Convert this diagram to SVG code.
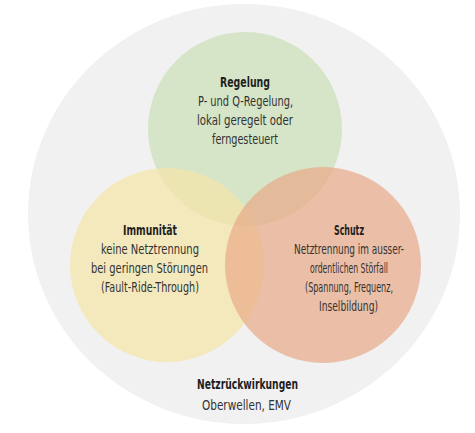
<svg xmlns="http://www.w3.org/2000/svg" width="475" height="433" viewBox="0 0 475 433">
<style>
.t{font-family:"DejaVu Sans Condensed","Liberation Sans",sans-serif;font-size:13.5px;fill:#333333;text-anchor:middle}
.b{font-weight:bold;fill:#1e1e1e}
.c{fill-opacity:0.7}
</style>
<rect width="475" height="433" fill="#ffffff"/>
<g id="netzrueckwirkungen">
<ellipse cx="244" cy="214" rx="216" ry="210" fill="#f1f1f2"/>
</g>
<g id="regelung-circle"><circle class="c" cx="245" cy="129" r="97" fill="#cae0b6"/></g>
<g id="immunitaet-circle"><circle class="c" cx="167" cy="265" r="97" fill="#f5e5a6"/></g>
<g id="schutz-circle"><circle class="c" cx="323" cy="265" r="98" fill="#e8aa88"/></g>
<g id="connectors"></g>
<g id="regelung">
<text class="t b" x="245" y="87" textLength="50" lengthAdjust="spacingAndGlyphs">Regelung</text>
<text class="t" x="245.5" y="106" textLength="95" lengthAdjust="spacingAndGlyphs">P- und Q-Regelung,</text>
<text class="t" x="245" y="125" textLength="96" lengthAdjust="spacingAndGlyphs">lokal geregelt oder</text>
<text class="t" x="245" y="144" textLength="66" lengthAdjust="spacingAndGlyphs">ferngesteuert</text>
</g>
<g id="immunitaet">
<text class="t b" x="150" y="235" textLength="54" lengthAdjust="spacingAndGlyphs">Immunität</text>
<text class="t" x="150" y="254" textLength="98" lengthAdjust="spacingAndGlyphs">keine Netztrennung</text>
<text class="t" x="149.5" y="273" textLength="117" lengthAdjust="spacingAndGlyphs">bei geringen Störungen</text>
<text class="t" x="150" y="292" textLength="98" lengthAdjust="spacingAndGlyphs">(Fault-Ride-Through)</text>
</g>
<g id="schutz">
<text class="t b" x="349" y="235" textLength="30" lengthAdjust="spacingAndGlyphs">Schutz</text>
<text class="t" x="349" y="254" textLength="110" lengthAdjust="spacingAndGlyphs">Netztrennung im ausser-</text>
<text class="t" x="349" y="273" textLength="78" lengthAdjust="spacingAndGlyphs">ordentlichen Störfall</text>
<text class="t" x="349" y="292" textLength="88" lengthAdjust="spacingAndGlyphs">(Spannung, Frequenz,</text>
<text class="t" x="348.5" y="311" textLength="59" lengthAdjust="spacingAndGlyphs">Inselbildung)</text>
</g>
<g id="netz-label">
<text class="t b" x="247.5" y="389" textLength="101" lengthAdjust="spacingAndGlyphs">Netzrückwirkungen</text>
<text class="t" x="246.5" y="410" textLength="89" lengthAdjust="spacingAndGlyphs">Oberwellen, EMV</text>
</g>
</svg>
